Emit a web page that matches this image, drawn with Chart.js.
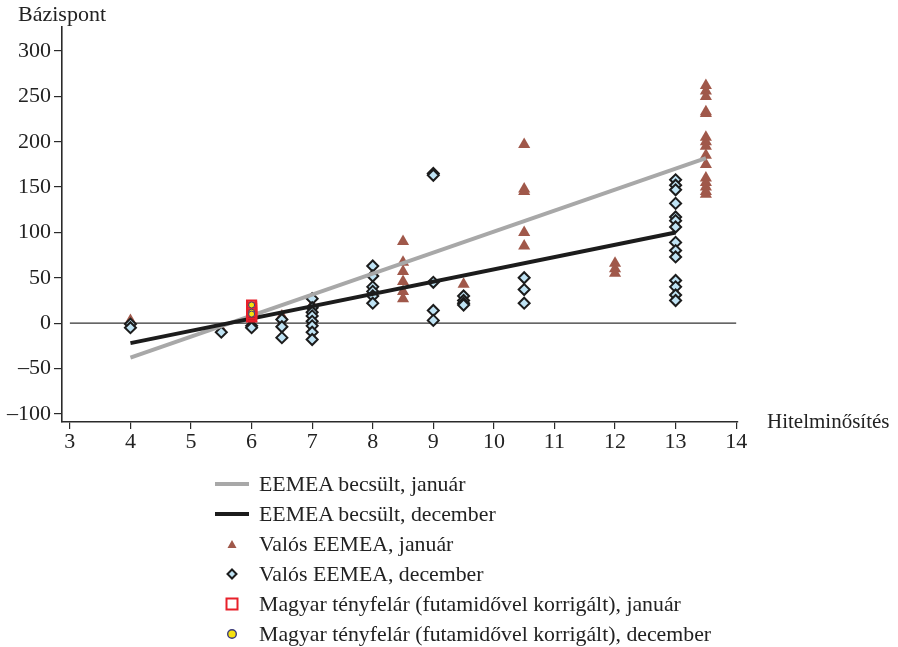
<!DOCTYPE html>
<html>
<head>
<meta charset="utf-8">
<script src="https://cdn.jsdelivr.net/npm/chart.js@4"></script>
<style>
  body { margin: 0; background: #fff; font-family: 'Liberation Serif', serif; color: #222; }
  #wrap { position: relative; width: 898px; height: 647px; }
  .txt { position: absolute; font-size: 22px; white-space: nowrap; }
  #legend { position: absolute; left: 205px; top: 469px; }
  .row { display: flex; align-items: center; height: 30px; font-size: 21.8px; }
  .sym { width: 54px; display: flex; justify-content: center; align-items: center; }
</style>
</head>
<body>
<div id="wrap">
  <canvas id="chart" width="898" height="647"></canvas>
  <div class="txt" style="left:18px; top:1px;">Bázispont</div>
  <div class="txt" style="left:767px; top:409px; font-size:21px;">Hitelminősítés</div>
  <div id="legend"></div>
</div>
<script>
// Axis ticks
const xTicks = [3, 4, 5, 6, 7, 8, 9, 10, 11, 12, 13, 14]
const yTicks = [-100, -50, 0, 50, 100, 150, 200, 250, 300]

// Estimated lines (EEMEA becsült)
const janEstX = [4, 13.5]
const janEstY = [-38, 182]
const decEstX = [4, 13]
const decEstY = [-22, 100]

// Valós EEMEA, január (triangles)
const janX = [4, 5.5, 6, 6.5, 7, 7,
  8.5, 8.5, 8.5, 8.5, 8.5, 8.5,
  9.5,
  10.5, 10.5, 10.5, 10.5, 10.5,
  12, 12, 12,
  13.5, 13.5, 13.5, 13.5, 13.5, 13.5, 13.5, 13.5, 13.5, 13.5, 13.5, 13.5, 13.5, 13.5, 13.5]
const janY = [3, -7, 5, 8, 20, 5,
  90, 67, 57, 46, 35, 27,
  43,
  197, 148, 145, 100, 85,
  66, 60, 55,
  262, 256, 250, 233, 231, 205, 200, 195, 185, 175, 160, 155, 150, 145, 142]

// Valós EEMEA, december (diamonds)
const decX = [4, 4, 5.5, 6, 6,
  6.5, 6.5, 6.5,
  7, 7, 7, 7, 7, 7, 7, 7,
  8, 8, 8, 8, 8, 8,
  9, 9, 9, 9, 9,
  9.5, 9.5, 9.5, 9.5,
  10.5, 10.5, 10.5,
  13, 13, 13, 13, 13, 13, 13, 13, 13, 13, 13, 13, 13, 13]
const decY = [-1, -5, -10, -3, -5,
  4, -4, -16,
  27, 17, 12, 8, 2, -3, -10, -18,
  63, 52, 40, 35, 30, 22,
  165, 163, 45, 14, 3,
  30, 25, 22, 20,
  50, 37, 22,
  158, 152, 147, 132, 117, 113, 106, 89, 80, 73, 47, 40, 31, 25]

// Magyar tényfelár (Hungary), január / december
const huJanX = [6, 6, 6, 6, 6, 6, 6, 6]
const huJanY = [20, 18, 16, 14, 12, 10, 8, 7]
const huDecX = [6, 6, 6]
const huDecY = [20, 12, 10]

const pts = (xs, ys) => xs.map((x, i) => ({ x, y: ys[i] }))

const ink = '#2a2a2a'
const font = { family: "'Liberation Serif', serif", size: 22 }

const datasets = [
  {
    label: 'Magyar tényfelár (futamidővel korrigált), december',
    data: pts(huDecX, huDecY),
    pointStyle: 'circle',
    pointRadius: 3,
    backgroundColor: '#f5e10f',
    borderColor: '#3a3a7a',
    borderWidth: 1,
    order: 0
  },
  {
    label: 'Magyar tényfelár (futamidővel korrigált), január',
    data: pts(huJanX, huJanY),
    pointStyle: 'rect',
    pointRadius: 6.5,
    backgroundColor: 'rgba(0,0,0,0)',
    borderColor: '#e8202a',
    borderWidth: 2,
    order: 1
  },
  {
    label: 'EEMEA becsült, december',
    data: pts(decEstX, decEstY),
    showLine: true,
    pointRadius: 0,
    borderColor: '#1c1c1c',
    borderWidth: 4,
    order: 2
  },
  {
    label: 'EEMEA becsült, január',
    data: pts(janEstX, janEstY),
    showLine: true,
    pointRadius: 0,
    borderColor: '#a8a8a8',
    borderWidth: 4,
    order: 3
  },
  {
    label: 'Valós EEMEA, december',
    data: pts(decX, decY),
    pointStyle: 'rectRot',
    pointRadius: 5.5,
    backgroundColor: '#bfe3f4',
    borderColor: '#1c1c1c',
    borderWidth: 2,
    order: 4
  },
  {
    label: 'Valós EEMEA, január',
    data: pts(janX, janY),
    pointStyle: 'triangle',
    pointRadius: 7,
    backgroundColor: '#a0584a',
    borderColor: '#a0584a',
    borderWidth: 0,
    order: 5
  },
  {
    // zero line
    label: '',
    data: pts([3, 14], [0, 0]),
    showLine: true,
    pointRadius: 0,
    borderColor: '#333',
    borderWidth: 1.3,
    order: 6
  }
]

new Chart(document.querySelector('#chart').getContext('2d'), {
  type: 'scatter',
  data: { datasets },
  options: {
    responsive: false,
    animation: false,
    devicePixelRatio: 1,
    layout: { padding: { left: 0, right: 160, top: 27, bottom: 185 } },
    plugins: { legend: { display: false }, tooltip: { enabled: false } },
    scales: {
      x: {
        type: 'linear',
        min: 2.87,
        max: 14.03,
        afterBuildTicks: scale => { scale.ticks = xTicks.map(value => ({ value })) },
        afterFit: scale => { scale.height = 40 },
        grid: { drawOnChartArea: false, drawTicks: true, tickLength: 7, color: ink, lineWidth: 1.2 },
        border: { display: true, color: ink, width: 1.6 },
        ticks: { color: '#222', font, padding: 0, maxRotation: 0 }
      },
      y: {
        type: 'linear',
        min: -109,
        max: 326.5,
        afterBuildTicks: scale => { scale.ticks = yTicks.map(value => ({ value })) },
        afterFit: scale => { scale.width = 62 },
        grid: { drawOnChartArea: false, drawTicks: true, tickLength: 8, color: ink, lineWidth: 1.2 },
        border: { display: true, color: ink, width: 1.6 },
        ticks: {
          color: '#222',
          font,
          padding: 3,
          callback: v => (v < 0 ? '–' + Math.abs(v) : String(v))
        }
      }
    }
  }
})

// HTML legend, one item per row
const legendItems = [
  { text: 'EEMEA becsült, január', sym: '<svg width="34" height="6"><rect y="1" width="34" height="4" fill="#a8a8a8"/></svg>' },
  { text: 'EEMEA becsült, december', sym: '<svg width="34" height="6"><rect y="1" width="34" height="4" fill="#1c1c1c"/></svg>' },
  { text: 'Valós EEMEA, január', sym: '<svg width="10" height="10"><polygon points="5,1 9.5,9 0.5,9" fill="#a0584a"/></svg>' },
  { text: 'Valós EEMEA, december', sym: '<svg width="12" height="12"><polygon points="6,1.5 10.5,6 6,10.5 1.5,6" fill="#bfe3f4" stroke="#1c1c1c" stroke-width="2"/></svg>' },
  { text: 'Magyar tényfelár (futamidővel korrigált), január', sym: '<svg width="14" height="14"><rect x="1.5" y="1.5" width="11" height="11" fill="#fff" stroke="#e8202a" stroke-width="2"/></svg>' },
  { text: 'Magyar tényfelár (futamidővel korrigált), december', sym: '<svg width="12" height="12"><circle cx="6" cy="6" r="4.3" fill="#f5e10f" stroke="#3a3a7a" stroke-width="1.4"/></svg>' }
]
document.querySelector('#legend').innerHTML = legendItems
  .map(item => `<div class="row"><span class="sym">${item.sym}</span><span>${item.text}</span></div>`)
  .join('')
</script>
</body>
</html>
